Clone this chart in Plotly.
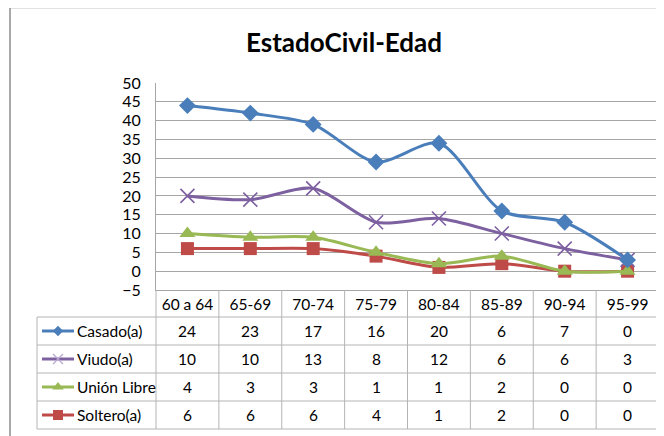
import plotly.graph_objects as go

# ---------------- data ----------------
categories = ["60 a 64", "65-69", "70-74", "75-79", "80-84", "85-89", "90-94", "95-99"]
series_names = ["Casado(a)", "Viudo(a)", "Unión Libre", "Soltero(a)"]
casado = [24, 23, 17, 16, 20, 6, 7, 0]
viudo = [10, 10, 13, 8, 12, 6, 6, 3]
union_libre = [4, 3, 3, 1, 1, 2, 0, 0]
soltero = [6, 6, 6, 4, 1, 2, 0, 0]
y_ticks = list(range(-5, 55, 5))
title_text = "EstadoCivil-Edad"

# ---------------- layout constants (pixels, in window coordinates) ----------------
OFF = 8                     # page body margin
WIN_W, WIN_H = 664, 436
W, H = WIN_W - OFF, WIN_H - OFF
PL, PR, PT, PB = 156, 659, 83, 290
HEADER_H, ROW_H = 27, 28
TABLE_LEFT = 37
FONT = "Lato"
GRID = "#A6A6A6"
TLINE = "#B4B4B4"

def px(x):
    return (x - OFF) / W

def py(y):
    return 1 - (y - OFF) / H

styles = {
    "Casado(a)": dict(color="#4A7EBB", symbol="diamond", size=13, lw=0, legsize=8),
    "Viudo(a)": dict(color="#7D60A0", symbol="x-thin", size=14, lw=1.6, legsize=10),
    "Unión Libre": dict(color="#98B954", symbol="triangle-up", size=14, lw=0, legsize=10),
    "Soltero(a)": dict(color="#BE4B48", symbol="square", size=13, lw=0, legsize=10),
}
values = {"Casado(a)": casado, "Viudo(a)": viudo, "Unión Libre": union_libre, "Soltero(a)": soltero}

fig = go.Figure()

# legend glyphs in table (overlay pixel axes)
row_top = [PB + HEADER_H + i * ROW_H for i in range(len(series_names))]
row_centers = [t + ROW_H / 2 for t in row_top]
for name, rc in zip(series_names, row_centers):
    s = styles[name]
    lx0, lx1 = TABLE_LEFT + 5, TABLE_LEFT + 37
    fig.add_trace(go.Scatter(
        x=[lx0, lx1], y=[rc, rc], mode="lines", line=dict(color=s["color"], width=3),
        xaxis="x2", yaxis="y2", showlegend=False, hoverinfo="skip"))
    mc = s["color"] if name != "Viudo(a)" else "#B7A6D0"
    fig.add_trace(go.Scatter(
        x=[(lx0 + lx1) / 2], y=[rc], mode="markers",
        marker=dict(symbol=s["symbol"], size=s["legsize"], color=mc,
                    line=dict(color=mc, width=1.2 if name == "Viudo(a)" else 0)),
        xaxis="x2", yaxis="y2", showlegend=False, hoverinfo="skip"))

# stacked lines: bottom first
for name in ["Soltero(a)", "Unión Libre", "Viudo(a)", "Casado(a)"]:
    s = styles[name]
    fig.add_trace(go.Scatter(
        x=categories, y=values[name], name=name, stackgroup="one", fill="none",
        mode="lines+markers",
        line=dict(color=s["color"], width=3, shape="spline", smoothing=0.8),
        marker=dict(symbol=s["symbol"], size=s["size"], color=s["color"],
                    line=dict(color=s["color"], width=s["lw"])),
        showlegend=False, xaxis="x", yaxis="y",
    ))

annotations = []
shapes = []

# table values
for name, rc in zip(series_names, row_centers):
    for cat, v in zip(categories, values[name]):
        annotations.append(dict(x=cat, y=py(rc), xref="x", yref="paper", text=str(v),
                                showarrow=False, xanchor="center", yanchor="middle",
                                font=dict(family=FONT, size=15.5, color="#000000")))
    annotations.append(dict(x=px(TABLE_LEFT + 38), y=py(rc), xref="paper", yref="paper",
                            text=name, showarrow=False, xanchor="left", yanchor="middle",
                            font=dict(family=FONT, size=15.5, color="#000000")))

# table grid lines
table_bottom = row_top[-1] + ROW_H
for t in row_top + [table_bottom]:
    shapes.append(dict(type="line", xref="paper", yref="paper", x0=px(TABLE_LEFT), x1=px(PR),
                       y0=py(t), y1=py(t), line=dict(color=TLINE, width=1)))
ncat = len(categories)
for k in range(ncat + 1):
    xx = PL + k * (PR - PL) / ncat
    shapes.append(dict(type="line", xref="paper", yref="paper", x0=px(xx), x1=px(xx),
                       y0=py(PB), y1=py(table_bottom), line=dict(color=TLINE, width=1)))
shapes.append(dict(type="line", xref="paper", yref="paper", x0=px(TABLE_LEFT), x1=px(TABLE_LEFT),
                   y0=py(row_top[0]), y1=py(table_bottom), line=dict(color=TLINE, width=1)))
# chart outer frame (top & left visible)
shapes.append(dict(type="line", xref="paper", yref="paper", x0=px(10), x1=1.01,
                   y0=py(7.5), y1=py(7.5), line=dict(color="#8C8C8C", width=1.5)))
shapes.append(dict(type="line", xref="paper", yref="paper", x0=px(10), x1=px(10),
                   y0=py(7.5), y1=-0.01, line=dict(color="#8C8C8C", width=1.5)))

fig.update_layout(
    width=W, height=H, margin=dict(l=0, r=0, t=0, b=0, autoexpand=False),
    paper_bgcolor="white", plot_bgcolor="rgba(0,0,0,0)",
    title=dict(text="<b>%s</b>" % title_text, x=px(344), y=py(43), xref="paper", yref="paper",
               xanchor="center", yanchor="middle", automargin=False,
               font=dict(family=FONT, size=26, color="#000000")),
    xaxis=dict(domain=[px(PL), px(PR)], type="category", range=[-0.5, ncat - 0.5],
               showgrid=False, zeroline=False, showline=True, linecolor=GRID, linewidth=1,
               ticks="", ticklabelstandoff=0, tickfont=dict(family=FONT, size=15.5, color="#000000"),
               fixedrange=True),
    yaxis=dict(domain=[py(PB), py(PT)], range=[-5, 50], tickvals=y_ticks,
               showgrid=True, gridcolor=GRID, gridwidth=1, zeroline=False,
               showline=True, linecolor=GRID, linewidth=1, ticks="",
               ticklabelstandoff=11, tickfont=dict(family=FONT, size=16, color="#000000"),
               fixedrange=True),
    xaxis2=dict(domain=[0, 1], range=[OFF, WIN_W], visible=False, anchor="y2", fixedrange=True),
    yaxis2=dict(domain=[0, 1], range=[WIN_H, OFF], visible=False, anchor="x2", fixedrange=True),
    annotations=annotations, shapes=shapes,
)

fig.write_html("out.html")
